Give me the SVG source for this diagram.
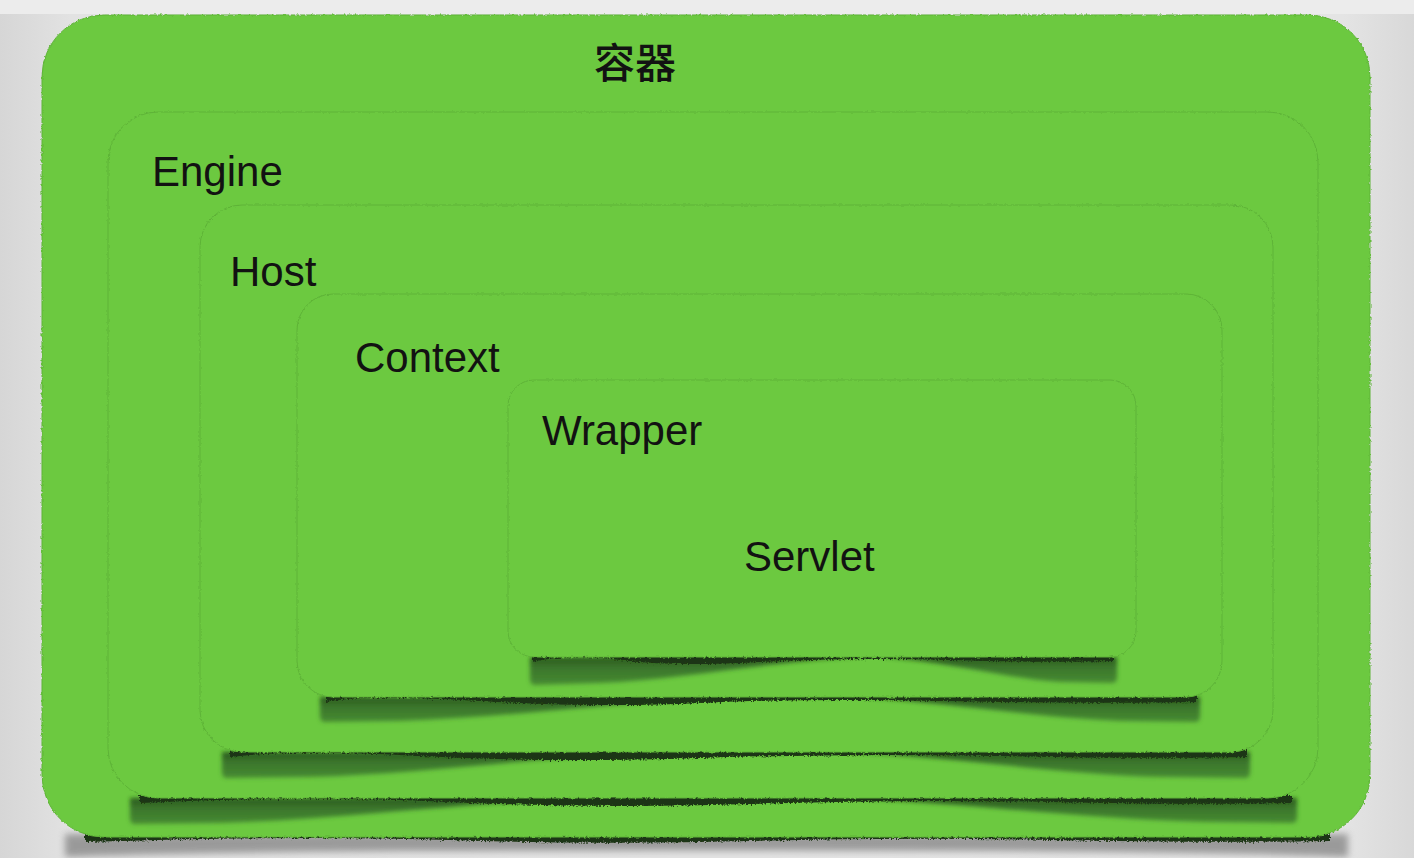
<svg xmlns="http://www.w3.org/2000/svg" width="1414" height="858" viewBox="0 0 1414 858">
<defs>
<linearGradient id="bg" x1="0" y1="0" x2="1" y2="0">
<stop offset="0" stop-color="#d6d6d6"/>
<stop offset="0.05" stop-color="#e2e2e2"/>
<stop offset="0.95" stop-color="#e4e4e4"/>
<stop offset="1" stop-color="#d8d8d8"/>
</linearGradient>
<linearGradient id="sh" x1="0" y1="0" x2="0" y2="1">
<stop offset="0" stop-color="#1f4515"/>
<stop offset="0.4" stop-color="#33682a"/>
<stop offset="1" stop-color="#40802e"/>
</linearGradient>
<filter id="rough" x="-2%" y="-2%" width="104%" height="104%">
<feTurbulence type="fractalNoise" baseFrequency="0.35" numOctaves="2" seed="3" result="n"/>
<feDisplacementMap in="SourceGraphic" in2="n" scale="3" xChannelSelector="R" yChannelSelector="G"/>
</filter>
<filter id="jag" x="-2%" y="-200%" width="104%" height="500%">
<feTurbulence type="fractalNoise" baseFrequency="0.6" numOctaves="2" seed="7" result="n"/>
<feDisplacementMap in="SourceGraphic" in2="n" scale="5" xChannelSelector="R" yChannelSelector="G" result="d"/>
<feGaussianBlur in="d" stdDeviation="0.6"/>
</filter>
<filter id="blur" x="-20%" y="-100%" width="140%" height="300%">
<feGaussianBlur stdDeviation="2.2"/>
</filter>
<filter id="blurg" x="-5%" y="-80%" width="110%" height="260%">
<feGaussianBlur stdDeviation="3.5"/>
</filter>
</defs>
<style>
.card{fill:#6cc941;stroke:#5eb337;stroke-width:1}
.line{fill:#1c3512}
.wedge{fill:url(#sh);opacity:0.85}
.lbl{font-family:"Liberation Sans","Noto Sans",Arial,sans-serif;font-size:42px;fill:#121212}
.cjk{font-family:"Noto Sans CJK SC","Noto Sans",sans-serif;font-size:41px;font-weight:500;fill:#121212}
</style>
<rect x="0" y="0" width="1414" height="858" fill="url(#bg)"/>
<rect x="0" y="0" width="1414" height="14" fill="#ececec"/>

<g id="container">
<g filter="url(#blurg)" fill="#6a6a6a" opacity="0.6">
<path d="M65,834 H1348 V857 Q1250,853 1000,851 Q700,850 400,851 Q160,853 65,857 Z"/>
</g>
<path class="line" filter="url(#jag)" d="M85,834 H1330 V841 Q1200,843 1050,840 T750,841 T450,840 T85,842 Z"/>
<rect class="card" filter="url(#rough)" x="42" y="15" width="1328" height="822" rx="62" ry="62"/>
<text class="cjk" x="635" y="78" text-anchor="middle">容器</text>
</g>

<g id="engine">
<g filter="url(#blur)">
<path class="wedge" d="M130,798 H580 C450,804 330,820 220,823 L135,824 Q130,824 130,818 Z"/>
<path class="wedge" d="M1297,798 H847 C977,804 1097,820 1207,822 L1292,823 Q1297,823 1297,817 Z"/>
</g>
<path class="line" filter="url(#jag)" d="M140,795 H1292 V803 Q1200,805 1050,802 T750,804 T450,802 T140,803 Z"/>
<rect class="card" filter="url(#rough)" x="108" y="112" width="1210" height="686" rx="50" ry="50"/>
<text class="lbl" x="152" y="186">Engine</text>
</g>

<g id="host">
<g filter="url(#blur)">
<path class="wedge" d="M222,752 H650 C530,758 420,774 310,777 L227,778 Q222,778 222,772 Z"/>
<path class="wedge" d="M1250,752 H850 C960,758 1060,774 1160,777 L1245,778 Q1250,778 1250,772 Z"/>
</g>
<path class="line" filter="url(#jag)" d="M230,749 H1247 V757 Q1150,759 1000,756 T700,758 T420,756 T230,757 Z"/>
<rect class="card" filter="url(#rough)" x="200" y="205" width="1073" height="547" rx="42" ry="42"/>
<text class="lbl" x="230" y="286">Host</text>
</g>

<g id="context">
<g filter="url(#blur)">
<path class="wedge" d="M320,697 H720 C610,703 500,718 400,721 L325,722 Q320,722 320,716 Z"/>
<path class="wedge" d="M1200,697 H860 C950,703 1040,718 1120,721 L1195,722 Q1200,722 1200,716 Z"/>
</g>
<path class="line" filter="url(#jag)" d="M326,694 H1197 V702 Q1100,704 950,701 T700,703 T480,701 T326,702 Z"/>
<rect class="card" filter="url(#rough)" x="297" y="294" width="925" height="403" rx="36" ry="36"/>
<text class="lbl" x="355" y="372">Context</text>
</g>

<g id="wrapper">
<g filter="url(#blur)">
<path class="wedge" d="M530,657 H860 C760,662 680,680 600,683 L535,685 Q530,685 530,679 Z"/>
<path class="wedge" d="M1117,657 H880 C950,662 1010,679 1060,682 L1112,683 Q1117,683 1117,677 Z"/>
</g>
<path class="line" filter="url(#jag)" d="M532,654 H1113 V661 Q1050,663 950,660 T760,662 T620,660 T532,662 Z"/>
<rect class="card" filter="url(#rough)" x="508" y="380" width="628" height="277" rx="26" ry="26"/>
<text class="lbl" x="542" y="445">Wrapper</text>
<text class="lbl" x="744" y="571">Servlet</text>
</g>
</svg>
